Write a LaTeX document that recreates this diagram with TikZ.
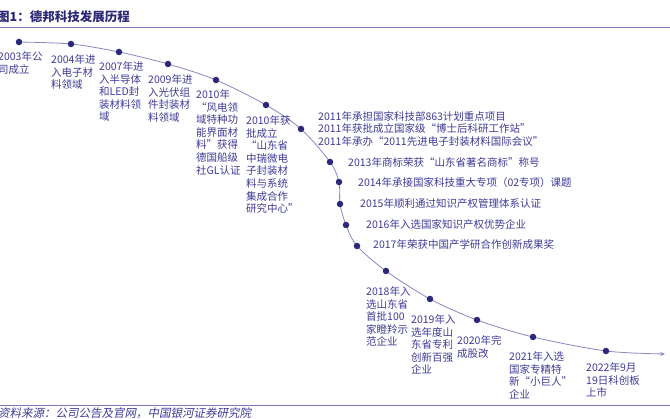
\documentclass[tikz,border=0pt]{standalone}
\usepackage{fontspec}
\setmainfont{Noto Sans CJK SC}
\newfontfamily\srcfont[FakeSlant=0.2]{Noto Sans CJK SC}
\usetikzlibrary{arrows.meta}
\definecolor{txt}{HTML}{3F3A96}
\definecolor{dotc}{HTML}{2B2879}
\definecolor{curvec}{HTML}{8A86C2}
\definecolor{rulec}{HTML}{7D78B8}
\definecolor{ttl}{HTML}{2C2876}
\begin{document}
\begin{tikzpicture}[x=1pt,y=-1pt,
  dot/.style={circle,fill=dotc,inner sep=0,minimum size=6.5pt},
  lbl/.style={anchor=north west,align=left,inner sep=0,text=txt,font=\fontsize{10.5}{12.6}\selectfont},
  lbl1/.style={anchor=west,inner sep=0,text=txt,font=\fontsize{10.5}{12.6}\selectfont},
  rule/.style={draw=rulec,line width=0.9pt}]
\useasboundingbox (0,0) rectangle (670,419);
% title and rules
\node[anchor=west,inner sep=0,text=ttl,font=\fontsize{12.5}{14}\selectfont\bfseries] (title) at (-3,17) {图1：德邦科技发展历程};
\coordinate (rt1) at (0,27); \coordinate (rt2) at (670,27);
\coordinate (rb1) at (0,405); \coordinate (rb2) at (670,405);
\draw[rule] (rt1) -- (rt2);
\draw[rule] (rb1) -- (rb2);
\node[anchor=west,inner sep=0,text=txt,font=\srcfont\fontsize{11.5}{13}\selectfont] (src) at (-2,413) {资料来源：公司公告及官网，中国银河证券研究院};
% curve points
\coordinate (c03) at (19,42);
\coordinate (c04) at (71,44);
\coordinate (c07) at (119,52);
\coordinate (c09) at (168,64);
\coordinate (c10a) at (216,80);
\coordinate (c10b) at (266,105);
\coordinate (c11) at (301,129);
\coordinate (c13) at (330,162);
\coordinate (c14) at (339,182);
\coordinate (c15) at (340,204);
\coordinate (c16) at (346,225);
\coordinate (c17) at (357,246);
\coordinate (c18) at (386,271);
\coordinate (c19) at (430,299);
\coordinate (c20) at (477,320);
\coordinate (c21) at (533,337);
\coordinate (c22) at (606,351);
\coordinate (cend) at (665,354);
\draw[curvec,line width=0.8pt,-{Stealth[length=5pt,width=4pt]}] plot[smooth] coordinates {(c03) (c04) (c07) (c09) (c10a) (c10b) (c11) (c13) (c14) (c15) (c16) (c17) (c18) (c19) (c20) (c21) (c22) (cend)};
\foreach \n in {03,04,07,09,10a,10b,11,13,14,15,16,17,18,19,20,21,22}
  \node[dot] (d\n) at (c\n) {};
% labels
\node[lbl] (t03) at (-2,51.5) {2003年公\\司成立};
\node[lbl] (t04) at (51,54.5) {2004年进\\入电子材\\料领域};
\node[lbl] (t07) at (99,61.5) {2007年进\\入半导体\\和LED封\\装材料领\\域};
\node[lbl] (t09) at (148,74.5) {2009年进\\入光伏组\\件封装材\\料领域};
\node[lbl] (t10a) at (196,89.5) {2010年\\“风电领\\域特种功\\能界面材\\料”获得\\德国船级\\社GL认证};
\node[lbl] (t10b) at (246,115.5) {2010年获\\批成立\\“山东省\\中瑞微电\\子封装材\\料与系统\\集成合作\\研究中心”};
\node[lbl] (t11) at (318,111) {2011年承担国家科技部863计划重点项目\\2011年获批成立国家级“博士后科研工作站”\\2011年承办“2011先进电子封装材料国际会议”};
\node[lbl1] (t13) at (348,162) {2013年商标荣获“山东省著名商标”称号};
\node[lbl1] (t14) at (358,183) {2014年承接国家科技重大专项（02专项）课题};
\node[lbl1] (t15) at (360,204) {2015年顺利通过知识产权管理体系认证};
\node[lbl1] (t16) at (366,225) {2016年入选国家知识产权优势企业};
\node[lbl1] (t17) at (373,245) {2017年荣获中国产学研合作创新成果奖};
\node[lbl] (t18) at (366,286.5) {2018年入\\选山东省\\首批100\\家瞪羚示\\范企业};
\node[lbl] (t19) at (411,314.5) {2019年入\\选年度山\\东省专利\\创新百强\\企业};
\node[lbl] (t20) at (457,335.5) {2020年完\\成股改};
\node[lbl] (t21) at (509,351.5) {2021年入选\\国家专精特\\新“小巨人”\\企业};
\node[lbl] (t22) at (586,362.5) {2022年9月\\19日科创板\\上市};
\end{tikzpicture}
\end{document}
